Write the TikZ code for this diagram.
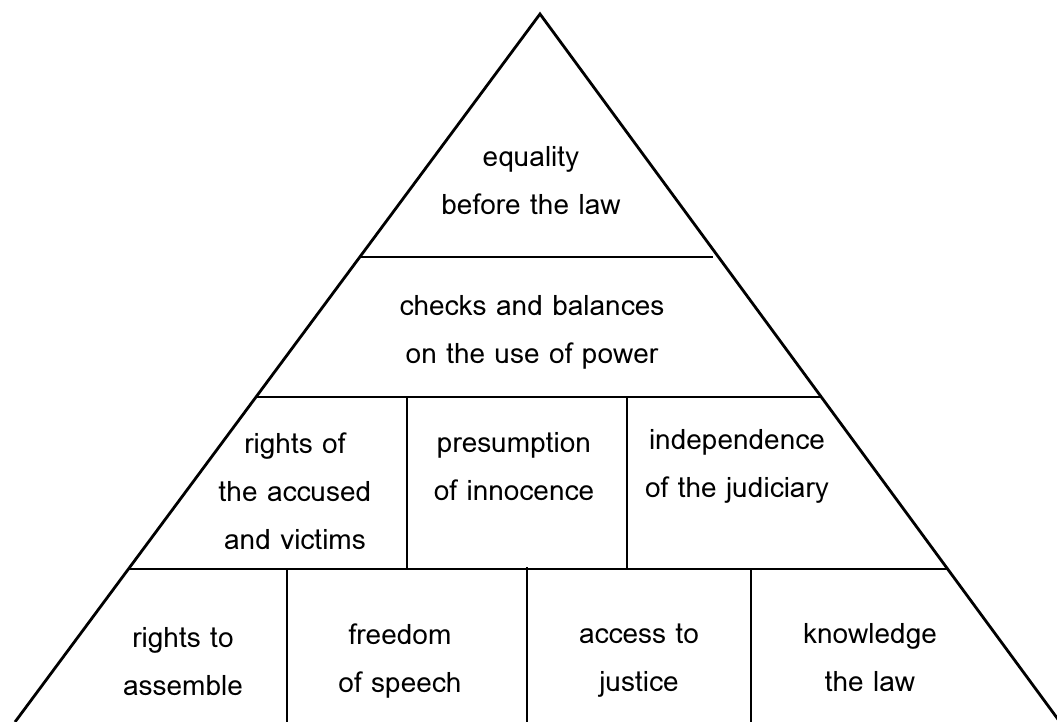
\documentclass[tikz,border=0pt]{standalone}
\usepackage{fontspec}
\setmainfont{Loma}
\tikzset{
  tier/.style={align=center,font=\fontsize{14}{24}\selectfont},
}
\begin{document}
\begin{tikzpicture}[x=0.5pt,y=-0.5pt,line width=1.4pt]
\useasboundingbox (0,0) rectangle (1057,722);
\clip (0,0) rectangle (1057,722);
% outline of the pyramid
\draw[line join=miter] (15,722) -- (540,14) -- (1060,722);
% levels
\draw (360,257) -- (713,257);
\draw (256,397) -- (822,397);
\draw (129,569) -- (948,569);
% third row
\draw (407,397) -- (407,569);
\draw (627,397) -- (627,569);
% bottom row
\draw (287,569) -- (287,722);
\draw (527,567) -- (527,722);
\draw (751,569) -- (751,722);

\node[tier] (equal) at (531,181) {equality\\before the law};
\node[tier] (checks) at (532,332) {checks and balances\\on the use of power};
\node[tier] (accused) at (295,491) {rights of\\the accused\\and victims};
\node[tier] (innocence) at (514,467) {presumption\\of innocence};
\node[tier] (judiciary) at (737,466) {independence\\of the judiciary};
\node[tier] (assemble) at (183,662) {rights to\\assemble};
\node[tier] (speech) at (400,661) {freedom\\of speech};
\node[tier] (justice) at (639,661) {access to\\justice};
\node[tier] (knowledge) at (870,658) {knowledge\\the law};
\end{tikzpicture}
\end{document}
